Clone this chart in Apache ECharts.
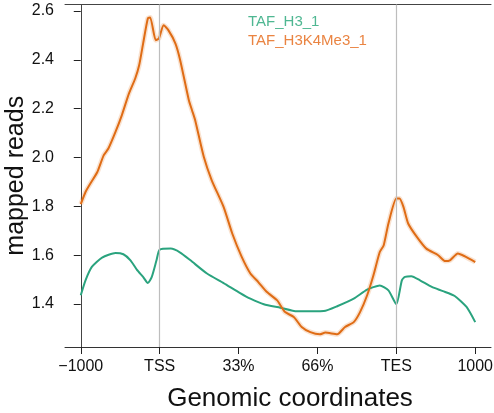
<!DOCTYPE html>
<html>
<head>
<meta charset="utf-8">
<script src="https://cdn.jsdelivr.net/npm/echarts@6/dist/echarts.min.js"></script>
<style>
html,body{margin:0;padding:0;background:#fff;}
#chart{width:494px;height:413px;}
</style>
</head>
<body>
<div id="chart"></div>
<script>
// x positions in bins: -1000 = 0, TSS = 100, 33% = 200, 66% = 300, TES = 400, 1000 = 500
const tickPositions = [0, 100, 200, 300, 400, 500];
const tickLabels = ['\u22121000', 'TSS', '33%', '66%', 'TES', '1000'];
const yTicks = [1.4, 1.6, 1.8, 2.0, 2.2, 2.4, 2.6];
const markerPositions = [100, 400];
const seriesNames = ['TAF_H3_1', 'TAF_H3K4Me3_1'];

const greenX = [0,6,14,27,44,54,63,71,79,85,90,96,100,114,126,139,160,181,202,215,232,253,274,295,308,325,346,363,379,390,400,407,411,419,430,445,459,474,489,500];
const greenY = [1.436,1.497,1.552,1.590,1.609,1.604,1.579,1.541,1.511,1.486,1.511,1.579,1.623,1.627,1.611,1.579,1.525,1.486,1.445,1.422,1.399,1.385,1.370,1.370,1.371,1.391,1.422,1.459,1.476,1.456,1.399,1.497,1.511,1.514,1.497,1.470,1.453,1.433,1.388,1.326];

const orangeX = [0,6,12,21,29,35,44,52,61,69,74,79,85,88,95,99,105,111,120,126,137,141,145,156,166,181,192,204,215,225,236,249,253,259,270,280,291,303,310,325,335,346,354,363,371,379,384,390,400,404,409,415,426,438,453,462,468,478,487,500];
const orangeY = [1.809,1.859,1.893,1.941,2.009,2.037,2.105,2.173,2.262,2.324,2.378,2.467,2.570,2.574,2.481,2.488,2.542,2.522,2.467,2.399,2.235,2.194,2.153,2.002,1.907,1.798,1.689,1.593,1.525,1.490,1.449,1.415,1.395,1.367,1.347,1.306,1.285,1.276,1.283,1.276,1.306,1.326,1.367,1.436,1.518,1.613,1.641,1.730,1.832,1.832,1.798,1.730,1.675,1.627,1.600,1.576,1.579,1.607,1.595,1.572];

const zip = (xs, ys) => xs.map((x, i) => [x, ys[i]]);
const greenData = zip(greenX, greenY);
const orangeData = zip(orangeX, orangeY);

const GREEN = '#2aa37e', ORANGE = '#df6c15';
const FONT = 'Liberation Sans, Arial, Helvetica, sans-serif';
const X_MIN = -20, X_MAX = 520, Y_MIN = 1.224, Y_MAX = 2.627;

const frameAxis = {
  splitLine: {show: false}, axisTick: {show: false}, axisLabel: {show: false},
  axisLine: {show: true, lineStyle: {color: '#444', width: 1}}
};

const chart = echarts.init(document.getElementById('chart'), null, {renderer: 'canvas'});
chart.setOption({
  animation: false,
  backgroundColor: '#fff',
  grid: {left: 65, right: 3, top: 4.5, bottom: 66, containLabel: false, outerBoundsMode: 'none'},
  legend: {
    data: [
      {name: seriesNames[0], textStyle: {color: '#4fb792'}},
      {name: seriesNames[1], textStyle: {color: '#ea8442'}}
    ],
    icon: 'none', itemWidth: 0, itemHeight: 10, orient: 'vertical',
    left: 243, top: 14, itemGap: 4, padding: 0,
    textStyle: {fontFamily: FONT, fontSize: 15}
  },
  xAxis: [{
    type: 'value', min: X_MIN, max: X_MAX, position: 'bottom',
    splitLine: {show: false},
    axisLine: {show: true, lineStyle: {color: '#333', width: 1}},
    axisTick: {show: true, length: 7, inside: false, customValues: tickPositions, lineStyle: {color: '#222'}},
    axisLabel: {customValues: tickPositions, margin: 12, fontFamily: FONT, fontSize: 16, color: '#111',
      formatter: v => tickLabels[tickPositions.indexOf(v)] ?? ''},
    name: 'Genomic coordinates', nameLocation: 'middle', nameGap: 39, nameMoveOverlap: false,
    nameTextStyle: {fontFamily: FONT, fontSize: 26, color: '#111', padding: [0, 0, 0, 24]}
  }, Object.assign({type: 'value', min: X_MIN, max: X_MAX, position: 'top'}, frameAxis)],
  yAxis: [{
    type: 'value', min: Y_MIN, max: Y_MAX, position: 'left',
    splitLine: {show: false},
    axisLine: {show: true, lineStyle: {color: '#333', width: 1}},
    axisTick: {show: true, length: 7, inside: false, customValues: yTicks, lineStyle: {color: '#222'}},
    axisLabel: {customValues: yTicks, margin: 11, fontFamily: FONT, fontSize: 16, color: '#111',
      formatter: v => v.toFixed(1)},
    name: 'mapped reads', nameLocation: 'middle', nameGap: 36, nameRotate: 90, nameMoveOverlap: false,
    nameTextStyle: {fontFamily: FONT, fontSize: 25, color: '#111'}
  }, Object.assign({type: 'value', min: Y_MIN, max: Y_MAX, position: 'right'}, frameAxis)],
  series: [
    {
      name: 'markers', type: 'line', data: [], silent: true,
      markLine: {symbol: 'none', silent: true, label: {show: false},
        lineStyle: {color: '#bdbdbd', width: 1.2, type: 'solid'},
        data: markerPositions.map(x => ({xAxis: x}))}
    },
    {
      name: seriesNames[1] + ' band', type: 'line', data: orangeData, smooth: 0.2, showSymbol: false, silent: true,
      lineStyle: {color: ORANGE, width: 5, opacity: 0.2}, z: 1
    },
    {
      name: seriesNames[0], type: 'line', data: greenData, smooth: 0.2, showSymbol: false,
      color: GREEN, lineStyle: {color: GREEN, width: 2}, z: 3
    },
    {
      name: seriesNames[1], type: 'line', data: orangeData, smooth: 0.2, showSymbol: false,
      color: ORANGE, lineStyle: {color: ORANGE, width: 2}, z: 3
    }
  ]
});
</script>
</body>
</html>
